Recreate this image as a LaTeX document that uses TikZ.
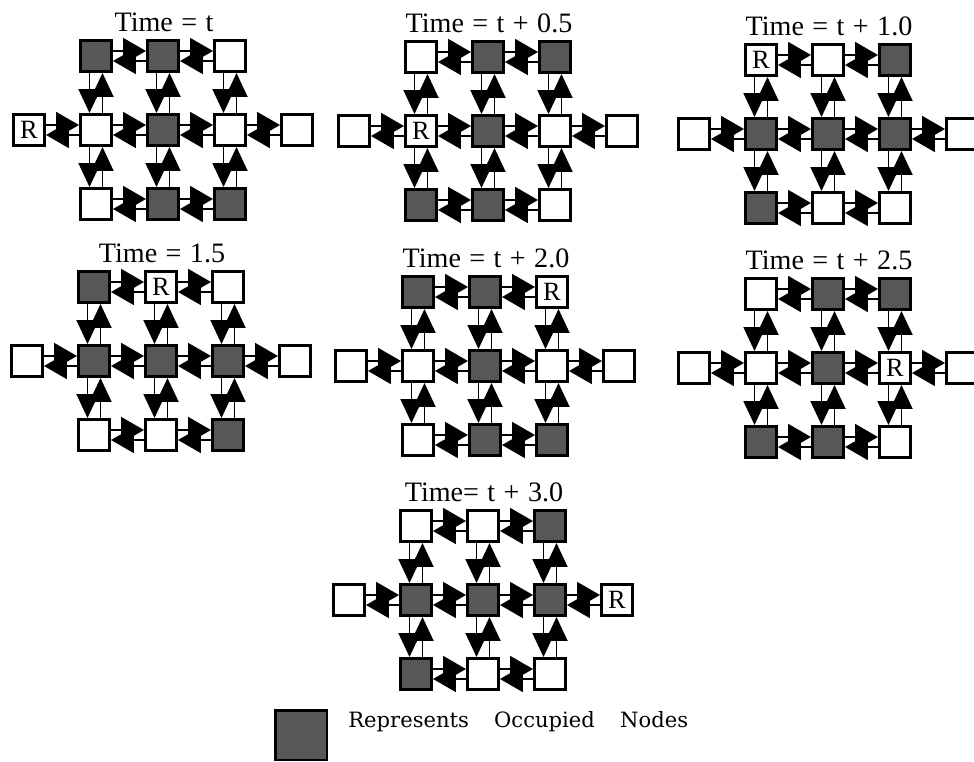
\documentclass[tikz,border=0pt]{standalone}
\usepackage{fontspec}
\setmainfont{Liberation Serif}
\newfontfamily\legendfont{DejaVu Serif}
\usetikzlibrary{arrows.meta}
\newcommand{\titlefont}{\fontsize{16}{18}\selectfont\spaceskip=0.3em\relax}

\begin{document}
\begin{tikzpicture}[
  x=0.02cm, y=-0.02cm,
  cell/.style={draw=black, line width=1.7pt, fill=white,
               minimum size=0.62cm, inner sep=0pt},
  occ/.style={fill=black!66},
  rtr/.style={label={[rtxt]center:R}},
  rtxt/.style={font=\fontsize{15}{16}\selectfont, inner sep=0pt},
  title/.style={font=\titlefont, anchor=base, inner sep=0pt},
  hlink/.style={line width=1.1pt, -{Triangle[length=0.46cm, width=0.52cm]}},
  vlink/.style={line width=1.1pt, -{Triangle[length=0.48cm, width=0.44cm]}},
  % occupied nodes and router, one line per time step
  a-11/.style=occ, a-12/.style=occ, a-22/.style=occ, a-32/.style=occ, a-33/.style=occ, a-W/.style=rtr,
  b-12/.style=occ, b-13/.style=occ, b-22/.style=occ, b-31/.style=occ, b-32/.style=occ, b-21/.style=rtr,
  c-13/.style=occ, c-21/.style=occ, c-22/.style=occ, c-23/.style=occ, c-31/.style=occ, c-11/.style=rtr,
  d-11/.style=occ, d-21/.style=occ, d-22/.style=occ, d-23/.style=occ, d-33/.style=occ, d-12/.style=rtr,
  e-11/.style=occ, e-12/.style=occ, e-22/.style=occ, e-32/.style=occ, e-33/.style=occ, e-13/.style=rtr,
  f-12/.style=occ, f-13/.style=occ, f-22/.style=occ, f-31/.style=occ, f-32/.style=occ, f-23/.style=rtr,
  g-13/.style=occ, g-21/.style=occ, g-22/.style=occ, g-23/.style=occ, g-31/.style=occ, g-E/.style=rtr
]
  \useasboundingbox (0,0) rectangle (974,761);

  \foreach \p/\ox/\oy/\ttl in {a/96/56/{Time = t}, b/421/57/{Time = t + 0.5},
      c/761/60/{Time = t + 1.0}, d/94/287/{Time = 1.5}, e/418/292/{Time = t + 2.0},
      f/761/294/{Time = t + 2.5}, g/416/526/{Time= t + 3.0}} {
    \node[title] (\p-t) at (\ox+68,\oy-25) {\ttl};
    % grid of nodes
    \foreach \r in {1,2,3} \foreach \c in {1,2,3}
      \node[cell, \p-\r\c/.try] (\p-\r\c) at ({\ox+67*(\c-1)},{\oy+74*(\r-1)}) {};
    \node[cell, \p-W/.try] (\p-W) at (\ox-67,\oy+74) {};
    \node[cell, \p-E/.try] (\p-E) at (\ox+201,\oy+74) {};
    % horizontal links
    \foreach \u/\v in {W/21, 21/22, 22/23, 23/E, 11/12, 12/13, 31/32, 32/33} {
      \draw[hlink] ([yshift=1mm]\p-\u.east) -- ([yshift=1mm]\p-\v.west);
      \draw[hlink] ([yshift=-1mm]\p-\v.west) -- ([yshift=-1mm]\p-\u.east);
    }
    % vertical links
    \foreach \c in {1,2,3} \foreach \u/\v in {1/2, 2/3} {
      \draw[vlink] ([xshift=-1.3mm]\p-\u\c.south) -- ([xshift=-1.3mm]\p-\v\c.north);
      \draw[vlink] ([xshift=1.3mm]\p-\v\c.north) -- ([xshift=1.3mm]\p-\u\c.south);
    }
  }

  % legend
  \node[cell, occ, minimum width=1.04cm, minimum height=1cm] (key) at (301,735) {};
  \node[font=\legendfont\fontsize{12}{14}\selectfont, anchor=base west, inner sep=0pt]
    (keytxt) at (348,727) {Represents\hspace{1.2em}Occupied\hspace{1.2em}Nodes};
\end{tikzpicture}
\end{document}
